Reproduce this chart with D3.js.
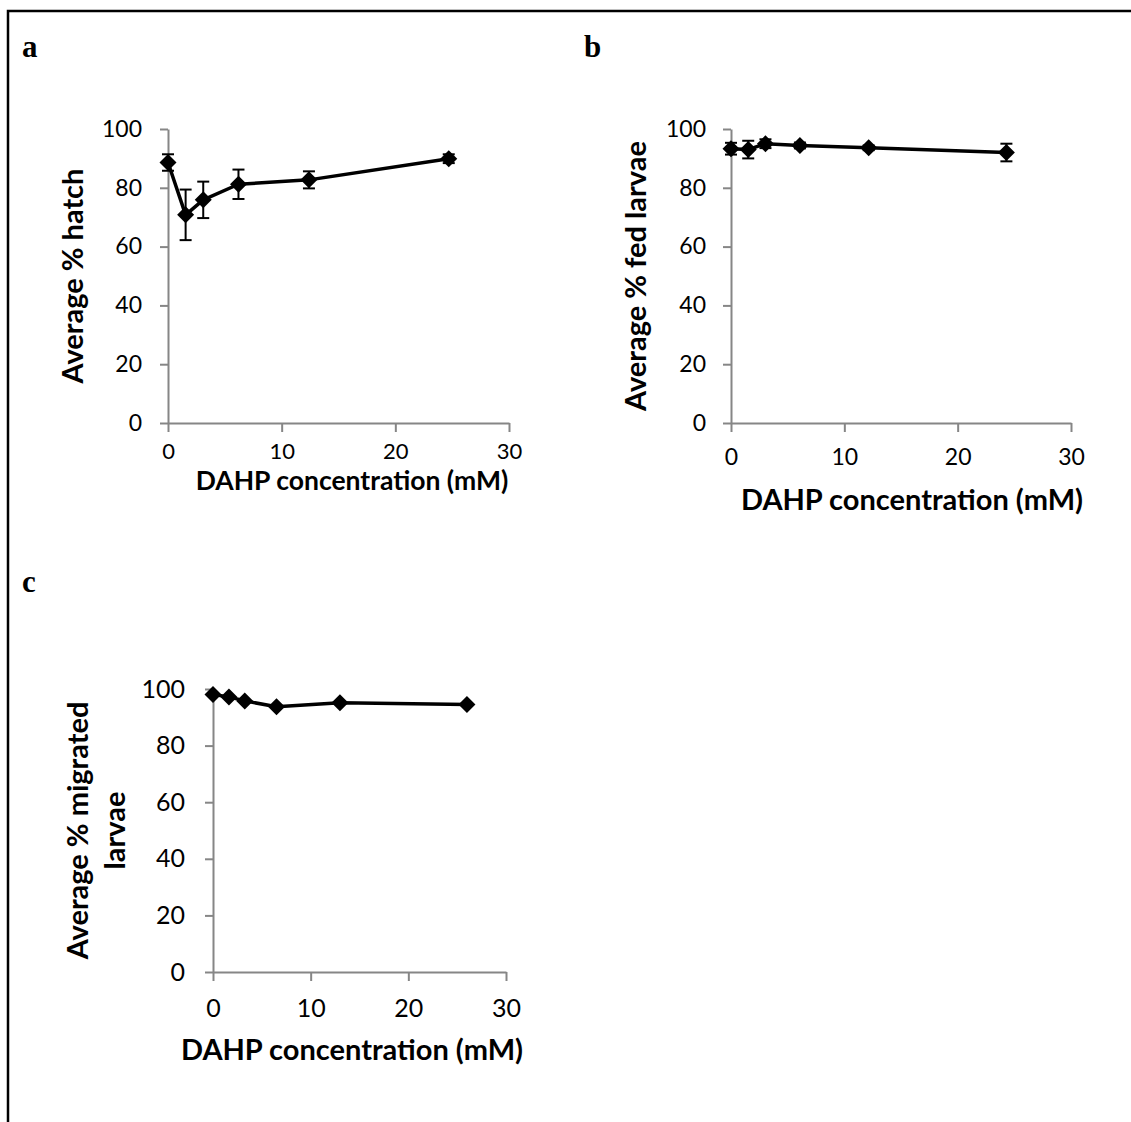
<!DOCTYPE html>
<html>
<head>
<meta charset="utf-8">
<script src="https://cdn.jsdelivr.net/npm/d3@7"></script>
<style>
  body { margin: 0; background: #fff; }
  svg { display: block; }
  .tick text { font-family: Lato, "Open Sans", sans-serif; fill: #000; }
</style>
</head>
<body>
<div id="chart"></div>
<script>
// panel a: hatch
const concA = [0, 1.55, 3.1, 6.2, 12.4, 24.7];
const hatchA = [88.6, 70.8, 75.9, 81.2, 82.7, 89.9];
const hatchErrA = [2.8, 8.6, 6.2, 5.0, 2.9, 1.5];

// panel b: fed larvae
const concB = [0, 1.52, 3.04, 6.08, 12.15, 24.3];
const fedB = [93.3, 93.0, 95.0, 94.4, 93.6, 92.0];
const fedErrB = [2.0, 3.0, 1.5, 1.0, 0.8, 3.0];

// panel c: migrated larvae
const concC = [0, 1.63, 3.25, 6.5, 13, 26];
const migC = [98.1, 97.2, 95.8, 93.7, 95.1, 94.5];

const xTicks = [0, 10, 20, 30];
const yTicks = [0, 20, 40, 60, 80, 100];

const W = 1131, H = 1122;
const axisColor = '#868686';
const font = 'Lato, "Open Sans", sans-serif';

const svg = d3.select('#chart').append('svg')
  .attr('width', W)
  .attr('height', H);

// outer frame (top + left only)
svg.append('path')
  .attr('d', `M8,${H} L8,11 L${W},11`)
  .attr('fill', 'none')
  .attr('stroke', '#000')
  .attr('stroke-width', 2.5);

const panels = [
  {
    letter: 'a', lx: 22, ly: 57,
    x0: 168, x1: 509, y0: 423, y1: 129,
    xs: concA, ys: hatchA, err: hatchErrA,
    ytitle: ['Average % hatch'], ytx: 83, ytSize: 29,
    xtitleX: 352, xtitleY: 490, xtitleSize: 26.5, xTickSize: 22, tickSize: 23, xPad: 11, yPad: 18,
  },
  {
    letter: 'b', lx: 584, ly: 57,
    x0: 731, x1: 1071, y0: 423, y1: 129,
    xs: concB, ys: fedB, err: fedErrB,
    ytitle: ['Average % fed larvae'], ytx: 646, ytSize: 29,
    xtitleX: 912, xtitleY: 510, xtitleSize: 29, xTickSize: 23, tickSize: 23, xPad: 17, yPad: 17,
  },
  {
    letter: 'c', lx: 22, ly: 592,
    x0: 213, x1: 506, y0: 972, y1: 689,
    xs: concC, ys: migC, err: null,
    ytitle: ['Average % migrated', 'larvae'], ytx: 88, ytSize: 29,
    xtitleX: 352, xtitleY: 1060, xtitleSize: 29, xTickSize: 25, tickSize: 25, xPad: 18, yPad: 20,
  },
];

panels.forEach((p) => {
  const g = svg.append('g');

  const x = d3.scaleLinear().domain([0, 30]).range([p.x0, p.x1]);
  const y = d3.scaleLinear().domain([0, 100]).range([p.y0, p.y1]);

  // panel letter
  svg.append('text')
    .attr('x', p.lx)
    .attr('y', p.ly)
    .attr('font-family', '"Liberation Serif", serif')
    .attr('font-weight', 'bold')
    .attr('font-size', 31)
    .text(p.letter);

  const xAxis = g.append('g')
    .attr('transform', `translate(0, ${p.y0})`)
    .call(d3.axisBottom(x).tickValues(xTicks).tickSize(9).tickPadding(p.xPad).tickSizeOuter(0));

  const yAxis = g.append('g')
    .attr('transform', `translate(${p.x0}, 0)`)
    .call(d3.axisLeft(y).tickValues(yTicks).tickSize(8).tickPadding(p.yPad).tickSizeOuter(0));

  [xAxis, yAxis].forEach((a) => {
    a.select('.domain').attr('stroke', axisColor).attr('stroke-width', 2);
    a.selectAll('.tick line').attr('stroke', axisColor).attr('stroke-width', 2);
  });
  xAxis.selectAll('.tick text').attr('font-size', p.xTickSize);
  yAxis.selectAll('.tick text').attr('font-size', p.tickSize);

  // x-axis title
  g.append('text')
    .attr('x', p.xtitleX)
    .attr('y', p.xtitleY)
    .attr('text-anchor', 'middle')
    .attr('font-family', font)
    .attr('font-weight', 'bold')
    .attr('font-size', p.xtitleSize)
    .text('DAHP concentration (mM)');

  // y-axis title (rotated)
  const yc = (p.y0 + p.y1) / 2;
  const yt = g.append('text')
    .attr('transform', `translate(${p.ytx}, ${yc}) rotate(-90)`)
    .attr('text-anchor', 'middle')
    .attr('font-family', font)
    .attr('font-weight', 'bold')
    .attr('font-size', p.ytSize);
  p.ytitle.forEach((line, i) => {
    yt.append('tspan')
      .attr('x', 0)
      .attr('dy', i === 0 ? 0 : 37)
      .text(line);
  });

  const pts = p.xs.map((d, i) => ({ x: d, y: p.ys[i], e: p.err ? p.err[i] : 0 }));

  // error bars
  if (p.err) {
    const eb = g.append('g').attr('stroke', '#000').attr('stroke-width', 2);
    eb.selectAll('.ev').data(pts).enter().append('line')
      .attr('class', 'ev')
      .attr('x1', d => x(d.x)).attr('x2', d => x(d.x))
      .attr('y1', d => y(d.y - d.e)).attr('y2', d => y(d.y + d.e));
    [1, -1].forEach((s, k) => {
      eb.selectAll(`.cap${k}`).data(pts).enter().append('line')
        .attr('class', `cap${k}`)
        .attr('x1', d => x(d.x) - 6).attr('x2', d => x(d.x) + 6)
        .attr('y1', d => y(d.y + s * d.e))
        .attr('y2', d => y(d.y + s * d.e));
    });
  }

  // line
  g.append('path')
    .datum(pts)
    .attr('fill', 'none')
    .attr('stroke', '#000')
    .attr('stroke-width', 3.5)
    .attr('stroke-linejoin', 'round')
    .attr('d', d3.line().x(d => x(d.x)).y(d => y(d.y)));

  // diamond markers
  g.selectAll('.mk').data(pts).enter().append('path')
    .attr('class', 'mk')
    .attr('transform', d => `translate(${x(d.x)}, ${y(d.y)})`)
    .attr('d', 'M0,-8.5 L8.5,0 L0,8.5 L-8.5,0 Z')
    .attr('fill', '#000');
});
</script>
</body>
</html>
